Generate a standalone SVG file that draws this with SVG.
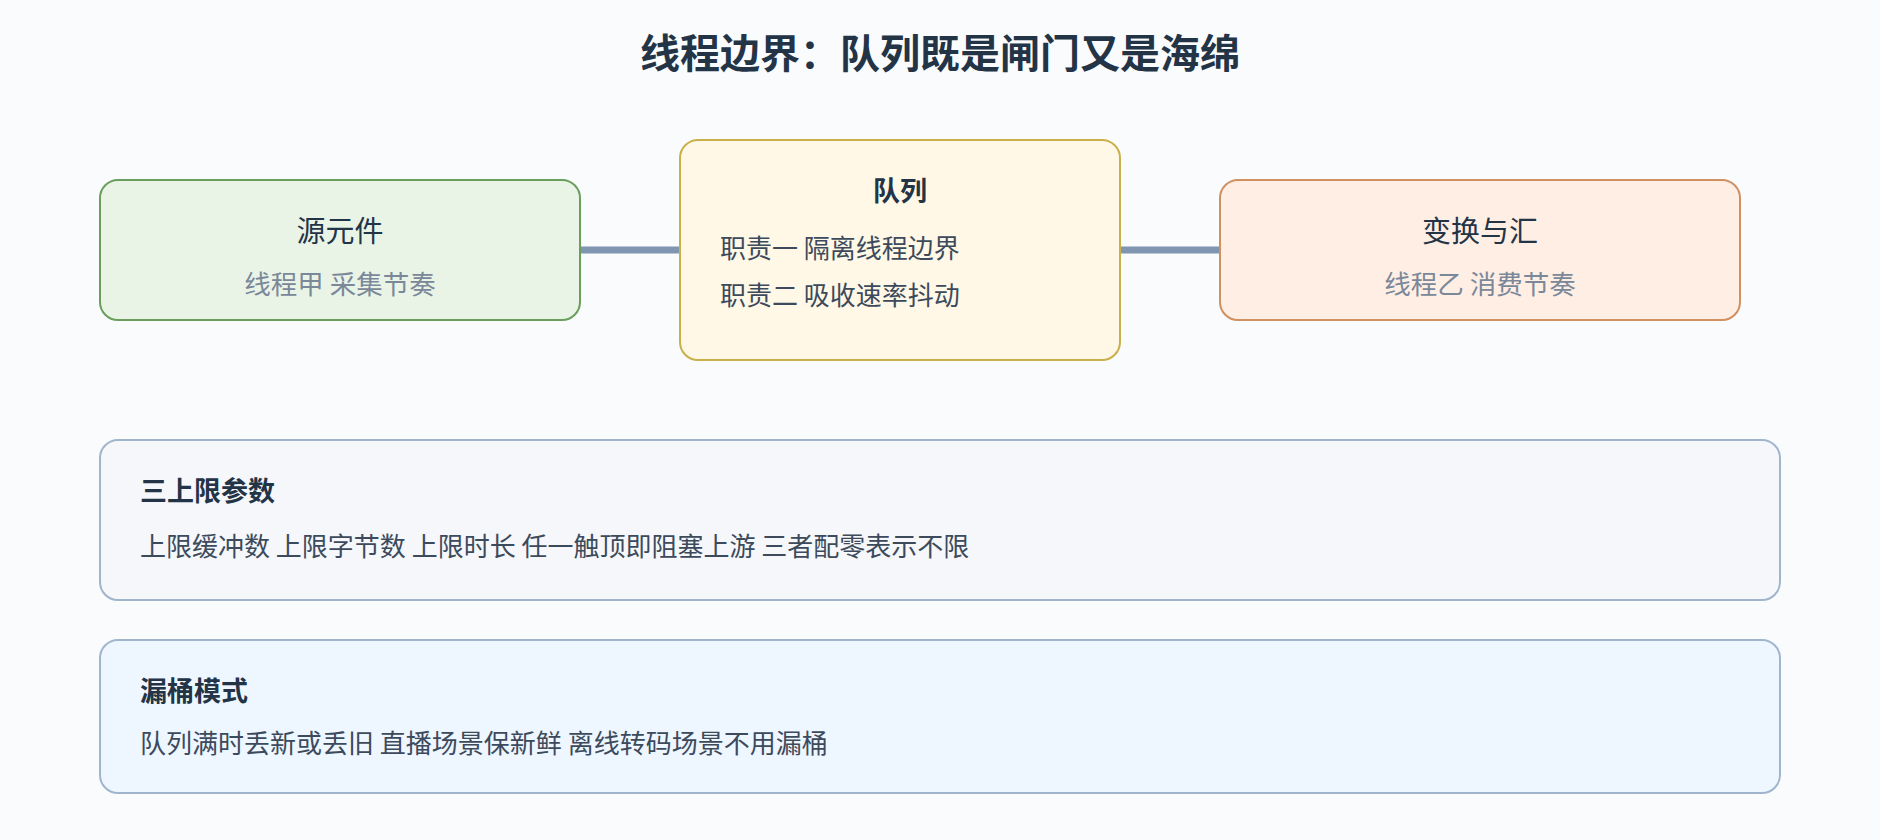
<svg xmlns="http://www.w3.org/2000/svg" width="1880" height="840" viewBox="0 0 1880 840">
<style>
text{font-family:"Noto Sans CJK SC","Noto Sans",sans-serif;fill:#243447}
.t{font-size:29px;text-anchor:middle}
.s{font-size:26.5px;text-anchor:middle;fill:#7a8899}
.b{font-size:27px;font-weight:bold}
.p{font-size:26px;fill:#3c4a5c}
.c{stroke:#8096b0;stroke-width:7;fill:none}
</style>
<rect width="1880" height="840" fill="#f9fbfd"/>
<text x="940" y="68" font-size="40" font-weight="bold" text-anchor="middle">线程边界：队列既是闸门又是海绵</text>
<g id="connectors">
<line class="c" x1="580" y1="250" x2="680" y2="250"/>
<line class="c" x1="1120" y1="250" x2="1220" y2="250"/>
</g>
<g id="source">
<rect x="100" y="180" width="480" height="140" rx="18" fill="#e9f4e7" stroke="#6a9e5c" stroke-width="2"/>
<text class="t" x="340" y="242">源元件</text>
<text class="s" x="340" y="294">线程甲 采集节奏</text>
</g>
<g id="queue">
<rect x="680" y="140" width="440" height="220" rx="18" fill="#fff8e6" stroke="#c9b04a" stroke-width="2"/>
<text class="b" x="900" y="201" text-anchor="middle">队列</text>
<text class="p" x="720" y="258">职责一 隔离线程边界</text>
<text class="p" x="720" y="305">职责二 吸收速率抖动</text>
</g>
<g id="sink">
<rect x="1220" y="180" width="520" height="140" rx="18" fill="#ffeee4" stroke="#d09060" stroke-width="2"/>
<text class="t" x="1480" y="242">变换与汇</text>
<text class="s" x="1480" y="294">线程乙 消费节奏</text>
</g>
<g id="limits">
<rect x="100" y="440" width="1680" height="160" rx="18" fill="#f5f7fa" stroke="#a0b4cc" stroke-width="2"/>
<text class="b" x="140" y="501">三上限参数</text>
<text class="p" x="140" y="556">上限缓冲数 上限字节数 上限时长 任一触顶即阻塞上游 三者配零表示不限</text>
</g>
<g id="leaky">
<rect x="100" y="640" width="1680" height="153" rx="18" fill="#eef6ff" stroke="#a0b4cc" stroke-width="2"/>
<text class="b" x="140" y="701">漏桶模式</text>
<text class="p" x="140" y="753">队列满时丢新或丢旧 直播场景保新鲜 离线转码场景不用漏桶</text>
</g>
</svg>
